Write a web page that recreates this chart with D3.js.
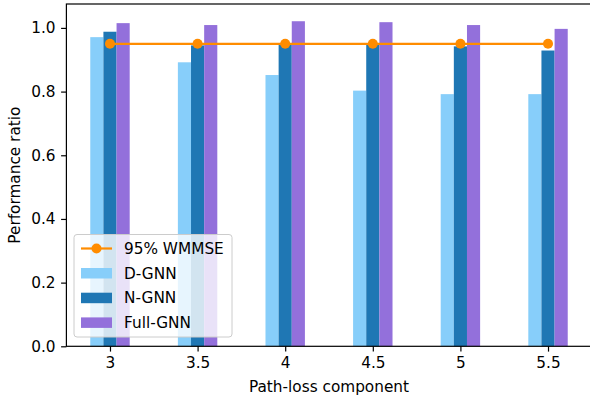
<!DOCTYPE html>
<html>
<head>
<meta charset="utf-8">
<script src="https://cdn.jsdelivr.net/npm/d3@7"></script>
<style>
  html, body { margin: 0; padding: 0; background: #fff; }
  svg { display: block; font-family: "DejaVu Sans", sans-serif; }
</style>
</head>
<body>
<div id="chart"></div>
<script>
const categories = ['3', '3.5', '4', '4.5', '5', '5.5']
const dGnn = [0.971, 0.892, 0.852, 0.803, 0.792, 0.792]
const nGnn = [0.988, 0.945, 0.947, 0.947, 0.942, 0.929]
const fullGnn = [1.015, 1.009, 1.021, 1.018, 1.009, 0.997]
const wmmse95 = [0.95, 0.95, 0.95, 0.95, 0.95, 0.95]
const yTicks = [0, 0.2, 0.4, 0.6, 0.8, 1.0]

const barSeries = [
  { name: 'D-GNN', values: dGnn, color: '#87cefa', offset: -1 },
  { name: 'N-GNN', values: nGnn, color: '#1f77b4', offset: 0 },
  { name: 'Full-GNN', values: fullGnn, color: '#9370db', offset: 1 }
]

const width = 590
const height = 403
const fontSize = '15.3px'
const margin = { top: 4, right: -1.6, bottom: 56.7, left: 66.4 }
const innerW = width - margin.left - margin.right
const innerH = height - margin.top - margin.bottom
const barW = 0.15

const svg = d3.select('#chart').append('svg')
  .attr('width', width)
  .attr('height', height)

const g = svg.append('g')
  .attr('transform', `translate(${margin.left}, ${margin.top})`)

// matplotlib-like auto limits: 5% margin around the bar extent
const xMin = -1.5 * barW
const xMax = categories.length - 1 + 1.5 * barW
const xPad = (xMax - xMin) * 0.05
const x = d3.scaleLinear()
  .domain([xMin - xPad, xMax + xPad])
  .range([0, innerW])

const yMax = d3.max([...dGnn, ...nGnn, ...fullGnn]) * 1.053
const y = d3.scaleLinear()
  .domain([0, yMax])
  .range([innerH, 0])

// bars
barSeries.forEach(s => {
  g.append('g')
    .selectAll('rect')
    .data(s.values)
    .join('rect')
    .attr('x', (d, i) => x(i + s.offset * barW - barW / 2))
    .attr('width', x(barW) - x(0))
    .attr('y', d => y(d))
    .attr('height', d => y(0) - y(d))
    .attr('fill', s.color)
})

// 95% WMMSE line
const line = d3.line()
  .x((d, i) => x(i))
  .y(d => y(d))

g.append('path')
  .datum(wmmse95)
  .attr('fill', 'none')
  .attr('stroke', '#ff8c00')
  .attr('stroke-width', 2.2)
  .attr('d', line)

g.selectAll('.marker')
  .data(wmmse95)
  .join('circle')
  .attr('class', 'marker')
  .attr('cx', (d, i) => x(i))
  .attr('cy', d => y(d))
  .attr('r', 5)
  .attr('fill', '#ff8c00')

// axes
const xAxis = g.append('g')
  .attr('transform', `translate(0, ${innerH})`)
  .call(d3.axisBottom(x)
    .tickValues(d3.range(categories.length))
    .tickFormat(i => categories[i])
    .tickSize(5.3)
    .tickPadding(6))

const yAxis = g.append('g')
  .call(d3.axisLeft(y)
    .tickValues(yTicks)
    .tickFormat(d3.format('.1f'))
    .tickSize(5.3)
    .tickPadding(5.5))

;[xAxis, yAxis].forEach(a => {
  a.select('.domain').remove()
  a.selectAll('line').attr('stroke', '#000').attr('stroke-width', 1.2)
  a.selectAll('text')
    .attr('fill', '#000')
    .style('font-size', fontSize)
    .style('font-family', '"DejaVu Sans", sans-serif')
})

// spines
g.append('rect')
  .attr('x', 0)
  .attr('y', 0)
  .attr('width', innerW)
  .attr('height', innerH)
  .attr('fill', 'none')
  .attr('stroke', '#000')
  .attr('stroke-width', 1.2)

// axis labels
svg.append('text')
  .attr('x', margin.left + innerW / 2)
  .attr('y', 392)
  .attr('text-anchor', 'middle')
  .style('font-size', fontSize)
  .text('Path-loss component')

svg.append('text')
  .attr('transform', `translate(20, ${margin.top + innerH / 2}) rotate(-90)`)
  .attr('text-anchor', 'middle')
  .style('font-size', fontSize)
  .text('Performance ratio')

// legend
const legend = svg.append('g')
  .attr('transform', 'translate(74, 234.5)')

legend.append('rect')
  .attr('width', 158)
  .attr('height', 102.5)
  .attr('rx', 3)
  .attr('fill', '#fff')
  .attr('fill-opacity', 0.8)
  .attr('stroke', '#cccccc')
  .attr('stroke-width', 1)

const items = [
  { name: '95% WMMSE', color: '#ff8c00', type: 'line' },
  ...barSeries.map(s => ({ name: s.name, color: s.color, type: 'bar' }))
]

legend.selectAll('g')
  .data(items)
  .join('g')
  .attr('transform', (d, i) => `translate(0, ${14 + i * 24.7})`)
  .each(function (d) {
    const item = d3.select(this)
    if (d.type === 'line') {
      item.append('line')
        .attr('x1', 7).attr('x2', 38)
        .attr('stroke', d.color)
        .attr('stroke-width', 2.2)
      item.append('circle')
        .attr('cx', 22.5)
        .attr('r', 5)
        .attr('fill', d.color)
    } else {
      item.append('rect')
        .attr('x', 7)
        .attr('y', -5.2)
        .attr('width', 31)
        .attr('height', 10.5)
        .attr('fill', d.color)
    }
    item.append('text')
      .attr('x', 50)
      .attr('y', 5.5)
      .style('font-size', fontSize)
      .text(d.name)
  })
</script>
</body>
</html>
